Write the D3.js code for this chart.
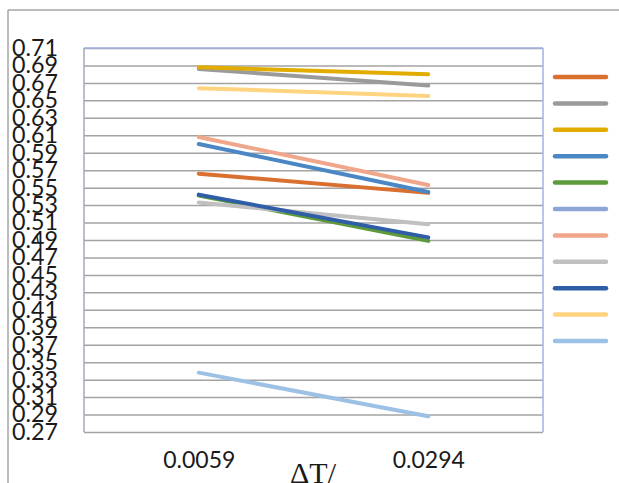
<!DOCTYPE html>
<html>
<head>
<meta charset="utf-8">
<script src="https://cdn.jsdelivr.net/npm/d3@7"></script>
<style>
  html, body { margin: 0; padding: 0; background: #fff; }
  svg { display: block; }
</style>
</head>
<body>
<svg id="chart" width="619" height="483"></svg>
<script>
// Categories on the x axis
const categories = ["0.0059", "0.0294"];

// y-axis tick values
const yTicks = [0.27, 0.29, 0.31, 0.33, 0.35, 0.37, 0.39, 0.41, 0.43, 0.45, 0.47,
                0.49, 0.51, 0.53, 0.55, 0.57, 0.59, 0.61, 0.63, 0.65, 0.67, 0.69, 0.71];

// Series values (one value per category)
const series1 = [0.566, 0.544];
const series2 = [0.686, 0.667];
const series3 = [0.688, 0.680];
const series4 = [0.600, 0.545];
const series5 = [0.541, 0.489];
const series6 = [null, null];
const series7 = [0.608, 0.553];
const series8 = [0.533, 0.508];
const series9 = [0.542, 0.493];
const series10 = [0.664, 0.655];
const series11 = [0.338, 0.288];

const seriesColors = ["#DA7030", "#9A9A9A", "#E3AC00", "#4A87C4", "#5C9A3A", "#8EA5D8",
                      "#F0A68B", "#C0C0C0", "#2F5DA8", "#FFD480", "#9DC1E5"];

const allSeries = [series1, series2, series3, series4, series5, series6,
                   series7, series8, series9, series10, series11];

const svg = d3.select("#chart");

const plot = { left: 84, right: 543, top: 48, bottom: 432 };

const x = d3.scalePoint().domain(categories).range([plot.left, plot.right]).padding(0.5);
const y = d3.scaleLinear().domain([0.27, 0.71]).range([plot.bottom, plot.top]);

// Outer frame lines (top and left)
svg.append("line").attr("x1", 8).attr("x2", 619).attr("y1", 10).attr("y2", 10)
  .attr("stroke", "#a6a6a6").attr("stroke-width", 1.5);
svg.append("line").attr("x1", 8).attr("x2", 8).attr("y1", 10).attr("y2", 483)
  .attr("stroke", "#a6a6a6").attr("stroke-width", 1.5);

// Horizontal gridlines
const grid = svg.append("g")
  .attr("transform", `translate(${plot.left},0)`)
  .call(d3.axisLeft(y).tickValues(yTicks).tickSize(-(plot.right - plot.left)).tickFormat(""));
grid.select(".domain").remove();
grid.selectAll(".tick line").attr("stroke", "#a3a3a3").attr("stroke-width", 1.5);

// Plot-area border
svg.append("line").attr("x1", plot.left).attr("x2", plot.right).attr("y1", plot.top).attr("y2", plot.top)
  .attr("stroke", "#9fb4e4").attr("stroke-width", 1.5);
svg.append("line").attr("x1", plot.right).attr("x2", plot.right).attr("y1", plot.top).attr("y2", plot.bottom)
  .attr("stroke", "#9fb4e4").attr("stroke-width", 1.5);
svg.append("line").attr("x1", plot.left).attr("x2", plot.left).attr("y1", plot.top).attr("y2", plot.bottom)
  .attr("stroke", "#a0a8bc").attr("stroke-width", 1.5);

// Y-axis labels (tightly stacked, stretched to a fixed width)
const yAxis = svg.append("g")
  .attr("transform", `translate(58,0)`)
  .call(d3.axisLeft(y).tickValues(yTicks).tickSize(0).tickPadding(0).tickFormat(d3.format(".2f")));
yAxis.select(".domain").remove();
yAxis.selectAll(".tick text")
  .attr("font-family", "Lato, 'Open Sans', sans-serif")
  .attr("font-size", 23)
  .attr("textLength", 46)
  .attr("lengthAdjust", "spacingAndGlyphs")
  .attr("fill", "#1a1a1a");

// Stray y-axis title fragment
svg.append("text")
  .attr("x", 33).attr("y", 243)
  .attr("font-family", "'DejaVu Serif', serif")
  .attr("font-size", 13)
  .attr("font-style", "italic")
  .attr("fill", "#111")
  .text("ʎ");

// X-axis labels
const xAxis = svg.append("g")
  .attr("transform", `translate(0,452)`)
  .call(d3.axisBottom(x).tickSize(0).tickPadding(0));
xAxis.select(".domain").remove();
xAxis.selectAll("text")
  .attr("font-family", "Lato, 'Open Sans', sans-serif")
  .attr("font-size", 23)
  .attr("fill", "#1a1a1a");

// X-axis title
svg.append("text")
  .attr("x", 313).attr("y", 483)
  .attr("text-anchor", "middle")
  .attr("font-family", "'Liberation Serif', 'DejaVu Serif', serif")
  .attr("font-size", 30)
  .attr("fill", "#1a1a1a")
  .text("ΔT/");

// Series lines
const line = d3.line()
  .defined(d => d != null)
  .x((d, i) => x(categories[i]))
  .y(d => y(d));

allSeries.forEach((s, i) => {
  svg.append("path")
    .datum(s)
    .attr("d", line)
    .attr("fill", "none")
    .attr("stroke", seriesColors[i])
    .attr("stroke-width", 4)
    .attr("stroke-linecap", "round");
});

// Legend swatches
const legendY = d3.scaleLinear().domain([0, allSeries.length - 1]).range([77, 341]);
svg.append("g").selectAll("line")
  .data(seriesColors)
  .join("line")
  .attr("x1", 555).attr("x2", 606)
  .attr("y1", (d, i) => legendY(i)).attr("y2", (d, i) => legendY(i))
  .attr("stroke", d => d)
  .attr("stroke-width", 4.5)
  .attr("stroke-linecap", "round");
</script>
</body>
</html>
